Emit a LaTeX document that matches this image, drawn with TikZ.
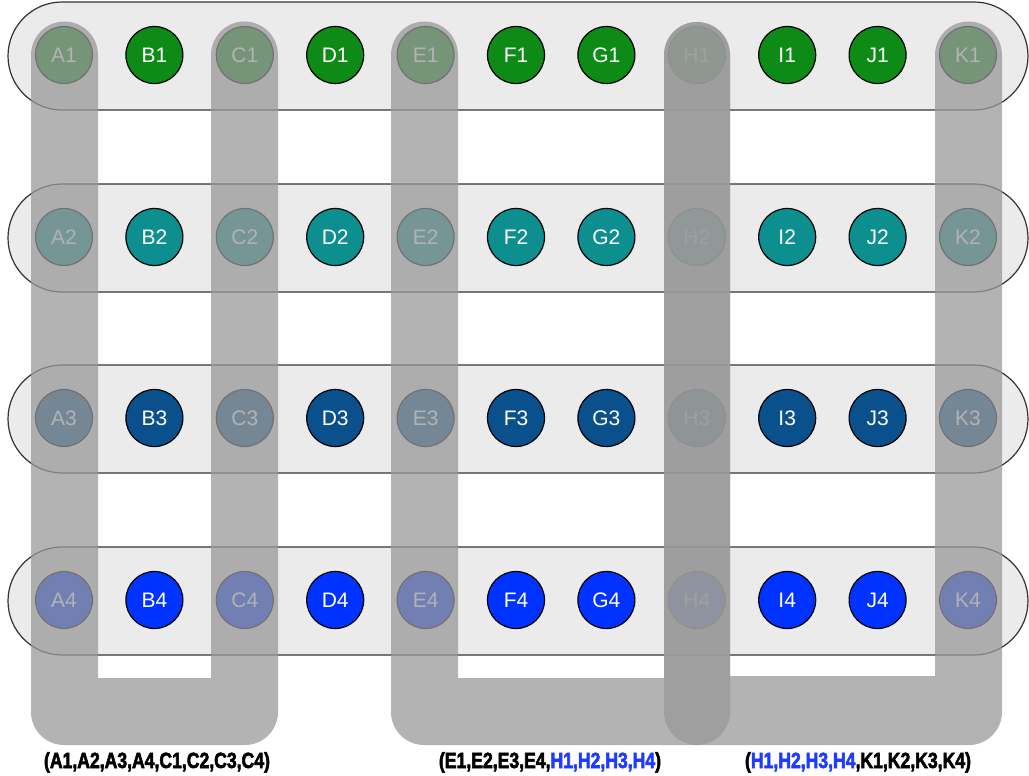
\documentclass[tikz,border=0pt]{standalone}
\usepackage{fontspec}
\setmainfont{Liberation Sans}
\newfontfamily\grpfont[FakeStretch=0.8,FakeBold=2.5]{Liberation Sans Bold}
\usepackage{tikz}
\usetikzlibrary{calc}
\definecolor{rowone}{HTML}{0E8A16}
\definecolor{rowtwo}{HTML}{0E8F8F}
\definecolor{rowthree}{HTML}{0A508C}
\definecolor{rowfour}{HTML}{0033FF}
\definecolor{hblue}{HTML}{1F3BFF}

\begin{document}
\begin{tikzpicture}[x=1pt, y=-1pt,
    band/.style={draw=black!80, line width=1.2pt, fill=black!8, rounded corners=54pt},
    ball/.style={circle, draw=black, line width=1.2pt, minimum size=57pt, inner sep=0pt,
                 text=white, font=\fontsize{21}{21}\selectfont},
    shade/.style={fill=black!40, fill opacity=0.75},
    grp/.style={anchor=base, font=\grpfont\fontsize{22}{22}\selectfont}]
    \useasboundingbox (0,0) rectangle (1029,776);
    % rows of wells
    \foreach \r/\yy/\col in {1/55/rowone, 2/237/rowtwo, 3/418/rowthree, 4/600/rowfour} {
        \draw[band] (8,\yy-53) rectangle (1028,\yy+55);
        \foreach \c [count=\i from 0] in {A,...,K}
            \node[ball, fill=\col] (\c\r) at (64+90.4*\i, \yy) {\c\r};
    }
    % column groups
    \fill[shade] (31,55) arc (180:360:33.5) -- (98,678) -- (211,678) -- (211,55)
        arc (180:360:33.5) [rounded corners=33pt] -- (278,745) -- (31,745) [sharp corners] -- cycle;
    \fill[shade] (391,55) arc (180:360:33.5) -- (458,678) -- (664,678) -- (664,55)
        arc (180:360:33) [rounded corners=33pt] -- (730,745) -- (391,745) [sharp corners] -- cycle;
    \fill[shade] (664,55) arc (180:360:33) -- (730,676) -- (935,676) -- (935,55)
        arc (180:360:33.5) [rounded corners=33pt] -- (1002,745) -- (664,745) [sharp corners] -- cycle;
    % group labels
    \node[grp] (acgrp) at (157,768) {(A1,A2,A3,A4,C1,C2,C3,C4)};
    \node[grp] (ehgrp) at (550,768) {(E1,E2,E3,E4,\textcolor{hblue}{H1,H2,H3,H4})};
    \node[grp] (hkgrp) at (858,768) {(\textcolor{hblue}{H1,H2,H3,H4},K1,K2,K3,K4)};
\end{tikzpicture}
\end{document}
